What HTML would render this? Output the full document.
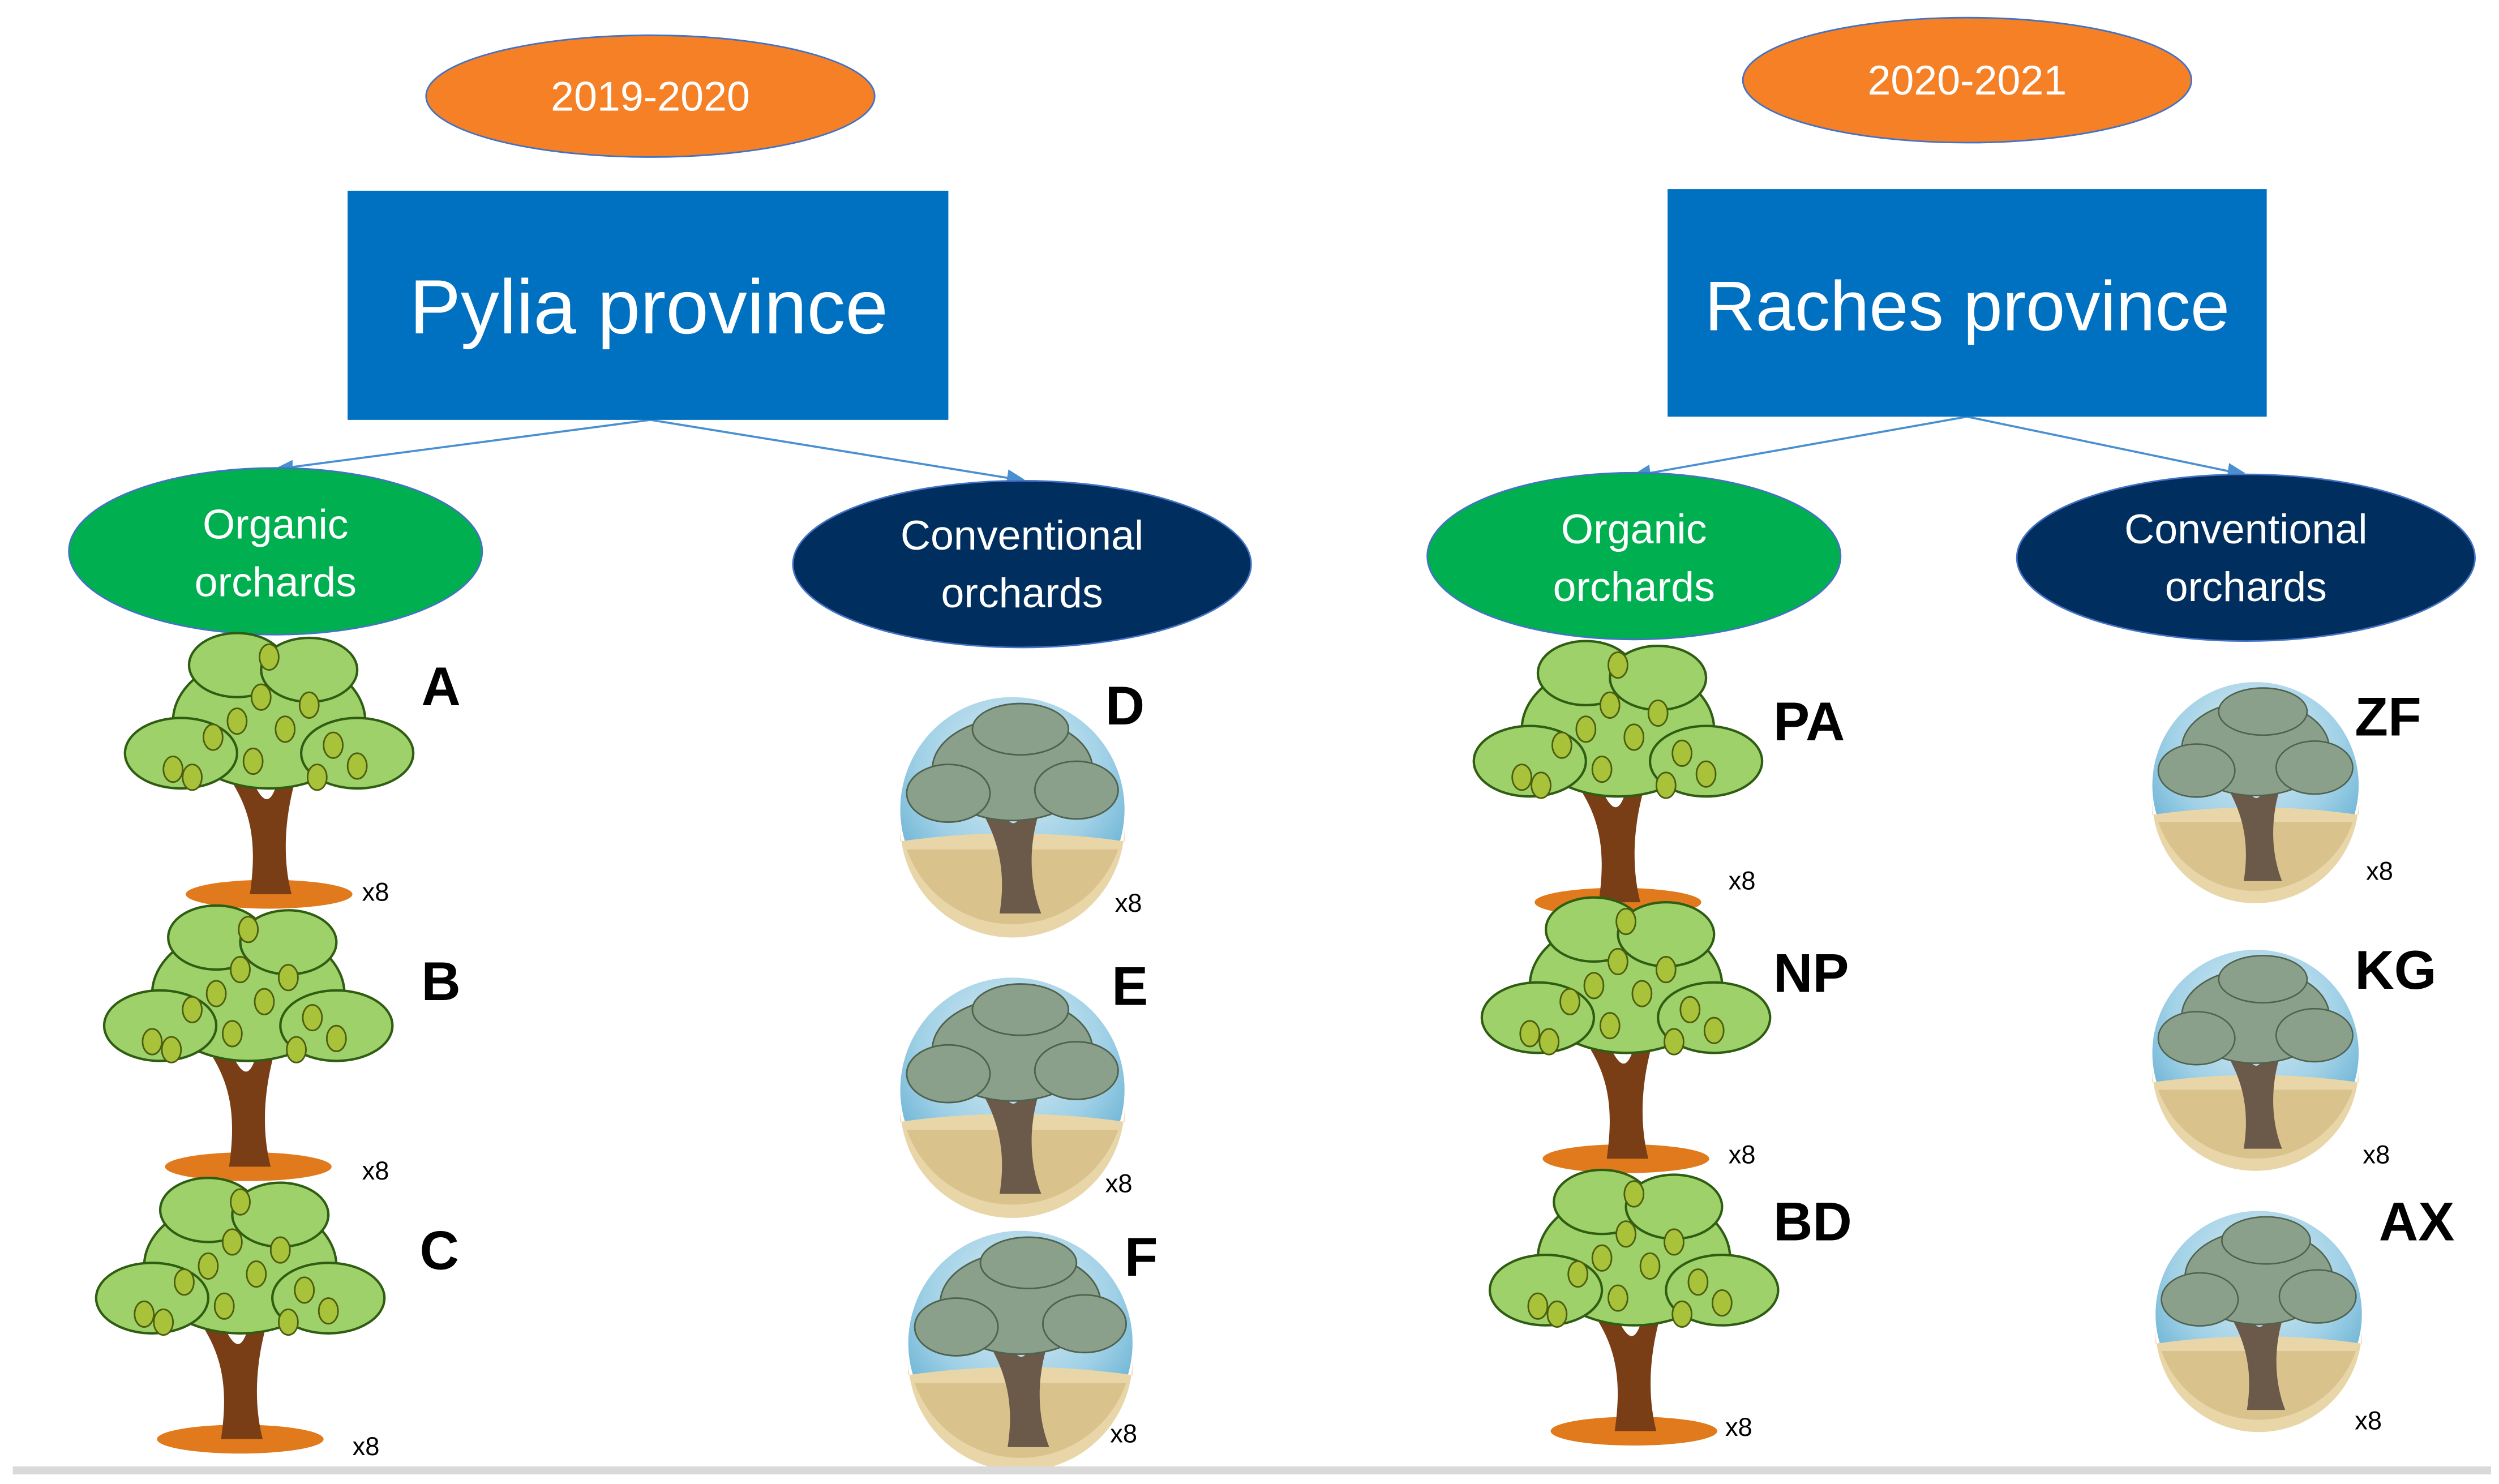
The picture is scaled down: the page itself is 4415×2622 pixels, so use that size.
<!DOCTYPE html>
<html><head><meta charset="utf-8"><style>
html,body{margin:0;padding:0;background:#fff;}
svg{display:block;}
</style></head><body>
<svg width="4415" height="2622" viewBox="0 0 1560 926" preserveAspectRatio="none" xmlns="http://www.w3.org/2000/svg" font-family="'Liberation Sans', sans-serif">
<defs>
  <radialGradient id="sky" cx="0.5" cy="0.3" r="0.7">
    <stop offset="0" stop-color="#dfeff5"/><stop offset="0.6" stop-color="#9fd0e6"/><stop offset="1" stop-color="#5aa9cf"/>
  </radialGradient>
  <g id="org">
    <ellipse cx="0" cy="78" rx="52" ry="9" fill="#e07a1c"/>
    <path d="M-12,78 C-8,50 -10,30 -22,10 L-10,8 C-2,25 2,20 6,5 L16,8 C10,30 8,55 14,78 Z" fill="#7a3e17"/>
    <g fill="#9fd16a" stroke="#2f5d12" stroke-width="1.5">
      <ellipse cx="0" cy="-30" rx="60" ry="42"/>
      <ellipse cx="-55" cy="-10" rx="35" ry="22"/>
      <ellipse cx="55" cy="-10" rx="35" ry="22"/>
      <ellipse cx="-20" cy="-65" rx="30" ry="20"/>
      <ellipse cx="25" cy="-62" rx="30" ry="20"/>
    </g>
    <g fill="#a8c23a" stroke="#4b5d10" stroke-width="1">
      <ellipse cx="-60" cy="0" rx="6" ry="8"/><ellipse cx="-48" cy="5" rx="6" ry="8"/>
      <ellipse cx="-35" cy="-20" rx="6" ry="8"/><ellipse cx="-20" cy="-30" rx="6" ry="8"/>
      <ellipse cx="-5" cy="-45" rx="6" ry="8"/><ellipse cx="10" cy="-25" rx="6" ry="8"/>
      <ellipse cx="25" cy="-40" rx="6" ry="8"/><ellipse cx="40" cy="-15" rx="6" ry="8"/>
      <ellipse cx="55" cy="-2" rx="6" ry="8"/><ellipse cx="30" cy="5" rx="6" ry="8"/>
      <ellipse cx="-10" cy="-5" rx="6" ry="8"/><ellipse cx="0" cy="-70" rx="6" ry="8"/>
    </g>
  </g>
  <g id="conv">
    <circle cx="0" cy="0" r="70" fill="url(#sky)"/>
    <path d="M-70,20 Q0,10 70,20 L70,10 A70,70 0 0 1 -70,10 Z" fill="#e8d6a8"/>
    <path d="M-66,25 A70,70 0 0 0 66,25 Z" fill="#d9c28c"/>
    <path d="M-8,65 C-4,40 -8,20 -20,0 L-8,-2 C0,15 4,10 8,-5 L18,-2 C10,20 10,45 18,65 Z" fill="#6b5a4a"/>
    <g fill="#8aa08a" stroke="#4f624f" stroke-width="1">
      <ellipse cx="0" cy="-25" rx="50" ry="32"/>
      <ellipse cx="-40" cy="-10" rx="26" ry="18"/>
      <ellipse cx="40" cy="-12" rx="26" ry="18"/>
      <ellipse cx="5" cy="-50" rx="30" ry="16"/>
    </g>
  </g>
</defs>

<!-- connectors -->
<g stroke="#4a90d0" stroke-width="1.3" fill="#4a90d0">
  <line x1="406" y1="262" x2="178" y2="292"/><path d="M174,292 l8,-4 l0,7 z"/>
  <line x1="406" y1="262" x2="634" y2="299"/><path d="M638,299 l-8,-5 l-1,7 z"/>
  <line x1="1228" y1="260" x2="1025" y2="296"/><path d="M1021,296 l8,-5 l1,7 z"/>
  <line x1="1228" y1="260" x2="1396" y2="295"/><path d="M1400,295 l-8,-5 l-1,7 z"/>
</g>

<!-- year ovals -->
<ellipse cx="406" cy="60" rx="140" ry="38" fill="#f58025" stroke="#4472c4" stroke-width="1"/>
<text x="406" y="69" font-size="26" fill="#fff" text-anchor="middle">2019-2020</text>
<ellipse cx="1228" cy="50" rx="140" ry="39" fill="#f58025" stroke="#4472c4" stroke-width="1"/>
<text x="1228" y="59" font-size="26" fill="#fff" text-anchor="middle">2020-2021</text>

<!-- province boxes -->
<rect x="217" y="119" width="375" height="143" fill="#0070c0"/>
<text x="405" y="208" font-size="48" fill="#fff" text-anchor="middle">Pylia province</text>
<rect x="1041" y="118" width="374" height="142" fill="#0070c0"/>
<text x="1228" y="206" font-size="44" fill="#fff" text-anchor="middle">Raches province</text>

<!-- category ovals -->
<g font-size="26" fill="#fff" text-anchor="middle">
<ellipse cx="172" cy="344" rx="129" ry="52" fill="#00b050" stroke="#4472c4"/>
<text x="172" y="336">Organic</text><text x="172" y="372">orchards</text>
<ellipse cx="638" cy="352" rx="143" ry="52" fill="#002f5f" stroke="#4472c4"/>
<text x="638" y="343">Conventional</text><text x="638" y="379">orchards</text>
<ellipse cx="1020" cy="347" rx="129" ry="52" fill="#00b050" stroke="#4472c4"/>
<text x="1020" y="339">Organic</text><text x="1020" y="375">orchards</text>
<ellipse cx="1402" cy="348" rx="143" ry="52" fill="#002f5f" stroke="#4472c4"/>
<text x="1402" y="339">Conventional</text><text x="1402" y="375">orchards</text>
</g>

<!-- trees -->
<use href="#org" x="168" y="480"/>
<use href="#org" x="155" y="650"/>
<use href="#org" x="150" y="820"/>
<use href="#conv" x="632" y="505"/>
<use href="#conv" x="632" y="680"/>
<use href="#conv" x="637" y="838"/>
<use href="#org" x="1010" y="485"/>
<use href="#org" x="1015" y="645"/>
<use href="#org" x="1020" y="815"/>
<use href="#conv" transform="translate(1408,490) scale(0.92)"/>
<use href="#conv" transform="translate(1408,657) scale(0.92)"/>
<use href="#conv" transform="translate(1410,820) scale(0.92)"/>

<!-- labels -->
<g font-size="34" font-weight="bold" fill="#000">
<text x="263" y="440">A</text><text x="263" y="624">B</text><text x="262" y="792">C</text>
<text x="690" y="452">D</text><text x="694" y="627">E</text><text x="702" y="796">F</text>
<text x="1107" y="462">PA</text><text x="1107" y="619">NP</text><text x="1107" y="774">BD</text>
<text x="1470" y="459">ZF</text><text x="1470" y="617">KG</text><text x="1485" y="774">AX</text>
</g>
<g font-size="16" fill="#000">
<text x="226" y="562">x8</text><text x="226" y="736">x8</text><text x="220" y="908">x8</text>
<text x="696" y="569">x8</text><text x="690" y="744">x8</text><text x="693" y="900">x8</text>
<text x="1079" y="555">x8</text><text x="1079" y="726">x8</text><text x="1077" y="896">x8</text>
<text x="1477" y="549">x8</text><text x="1475" y="726">x8</text><text x="1470" y="892">x8</text>
</g>

<!-- bottom rule -->
<rect x="8" y="915" width="1547" height="5" fill="#d9d9d9"/>
</svg>
</body></html>
